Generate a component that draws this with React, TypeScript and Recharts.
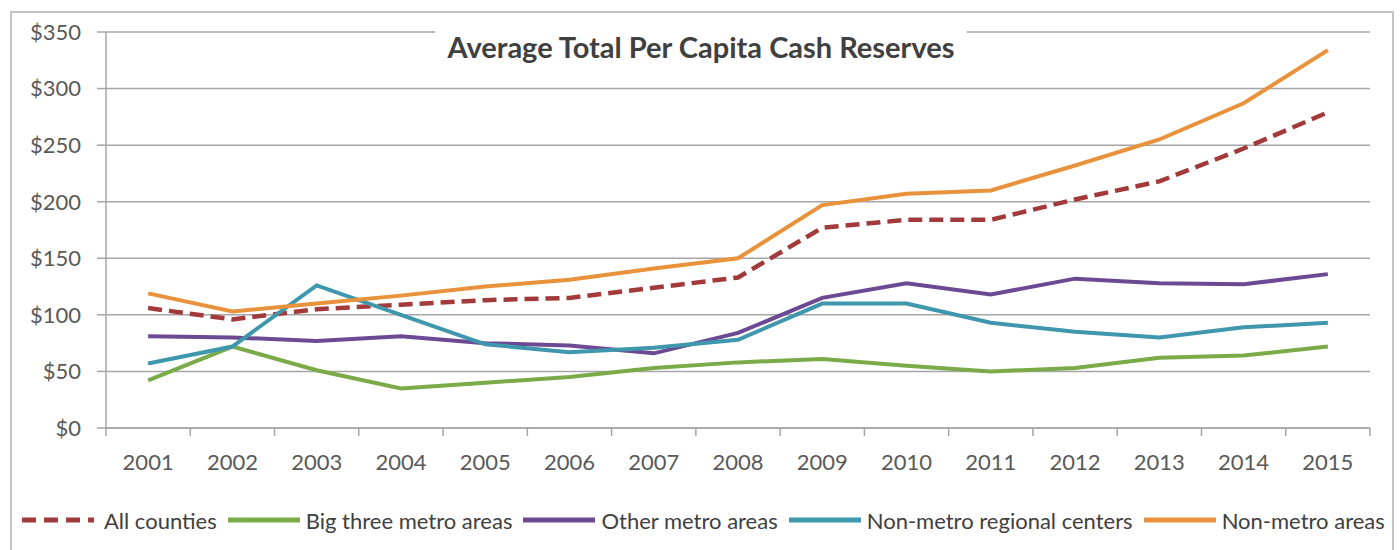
import React from 'react';
import { LineChart, Line, XAxis, YAxis, CartesianGrid, Legend } from 'recharts';

const years = ['2001', '2002', '2003', '2004', '2005', '2006', '2007', '2008', '2009', '2010', '2011', '2012', '2013', '2014', '2015'];
const allCounties = [106, 96, 105, 109, 113, 115, 124, 133, 177, 184, 184, 202, 218, 247, 279];
const bigThree = [42, 72, 51, 35, 40, 45, 53, 58, 61, 55, 50, 53, 62, 64, 72];
const otherMetro = [81, 80, 77, 81, 75, 73, 66, 84, 115, 128, 118, 132, 128, 127, 136];
const nonMetroRegional = [57, 72, 126, 100, 74, 67, 71, 78, 110, 110, 93, 85, 80, 89, 93];
const nonMetro = [119, 103, 110, 117, 125, 131, 141, 150, 197, 207, 210, 232, 255, 287, 334];
const yTicks = [0, 50, 100, 150, 200, 250, 300, 350];
const title = 'Average Total Per Capita Cash Reserves';

const series = [
  { key: 'all', name: 'All counties', values: allCounties, color: '#A23A3C', dash: '14 7' },
  { key: 'big', name: 'Big three metro areas', values: bigThree, color: '#7AAB48', dash: undefined },
  { key: 'other', name: 'Other metro areas', values: otherMetro, color: '#6C4A93', dash: undefined },
  { key: 'reg', name: 'Non-metro regional centers', values: nonMetroRegional, color: '#3F97AE', dash: undefined },
  { key: 'nm', name: 'Non-metro areas', values: nonMetro, color: '#E8923C', dash: undefined },
];

const data = years.map((y, i) => {
  const row: any = { year: y };
  series.forEach((s) => { row[s.key] = s.values[i]; });
  return row;
});

const FONT = 'Lato, "Open Sans", sans-serif';
const GRID = '#a6a6a6';

const XTick = (props: any) => {
  const { x, y, payload, index, width, visibleTicksCount } = props;
  const band = width / visibleTicksCount;
  const left = x - band / 2;
  const right = x + band / 2;
  return (
    <g>
      <line x1={left} y1={y} x2={left} y2={y + 8} stroke={GRID} strokeWidth={1.5} />
      {index === visibleTicksCount - 1 && (
        <line x1={right} y1={y} x2={right} y2={y + 8} stroke={GRID} strokeWidth={1.5} />
      )}
      <text x={x} y={y + 42} textAnchor="middle" fontSize={22} fill="#595959" fontFamily={FONT}>
        {payload.value}
      </text>
    </g>
  );
};

const LegendContent = () => (
  <div style={{ display: 'flex', alignItems: 'center', height: 40, paddingLeft: 22, fontFamily: FONT, fontSize: 22, color: '#404040', whiteSpace: 'nowrap' }}>
    {series.map((s) => (
      <div key={s.key} style={{ display: 'flex', alignItems: 'center', marginRight: 11 }}>
        <svg width={72} height={10} style={{ marginRight: s.dash ? 10 : 6 }}>
          <line x1={0} y1={5} x2={72} y2={5} stroke={s.color} strokeWidth={5} strokeDasharray={s.dash ? '14 8' : undefined} />
        </svg>
        <span>{s.name}</span>
      </div>
    ))}
  </div>
);

export default function App() {
  return (
    <div style={{ position: 'absolute', left: 0, top: 0, width: 1400, height: 550, background: '#fff', overflow: 'hidden' }}>
      <div style={{ position: 'absolute', left: 10, top: 11, width: 1380, height: 600, border: '2px solid #c4c4c4' }} />
      <LineChart width={1400} height={550} data={data} margin={{ top: 32, right: 30, left: 0, bottom: 10 }}>
        <CartesianGrid vertical={false} stroke={GRID} strokeWidth={1.5} />
        <XAxis
          dataKey="year"
          scale="band"
          height={72}
          tickSize={0}
          tickMargin={0}
          tick={<XTick />}
          interval={0}
          axisLine={{ stroke: GRID, strokeWidth: 1.5 }}
          tickLine={false}
        />
        <YAxis
          width={106}
          domain={[0, 350]}
          ticks={yTicks}
          tickFormatter={(v: number) => `$${v}`}
          tickSize={9}
          tickMargin={16}
          tick={{ fontSize: 22, fill: '#595959', fontFamily: FONT }}
          axisLine={{ stroke: GRID, strokeWidth: 1.5 }}
          tickLine={{ stroke: GRID, strokeWidth: 1.5 }}
        />
        <Legend verticalAlign="bottom" height={40} content={<LegendContent />} wrapperStyle={{ left: 0, width: 1400 }} />
        {series.map((s) => (
          <Line
            key={s.key}
            dataKey={s.key}
            name={s.name}
            stroke={s.color}
            strokeWidth={s.dash ? 4.5 : 4}
            strokeDasharray={s.dash}
            dot={false}
            activeDot={false}
            isAnimationActive={false}
          />
        ))}
      </LineChart>
      <div
        style={{
          position: 'absolute', left: 435, top: 24, width: 532, height: 44, background: '#fff',
          display: 'flex', alignItems: 'center', justifyContent: 'center',
          fontFamily: FONT, fontWeight: 700, fontSize: 29, color: '#404040', whiteSpace: 'nowrap',
        }}
      >
        {title}
      </div>
    </div>
  );
}
